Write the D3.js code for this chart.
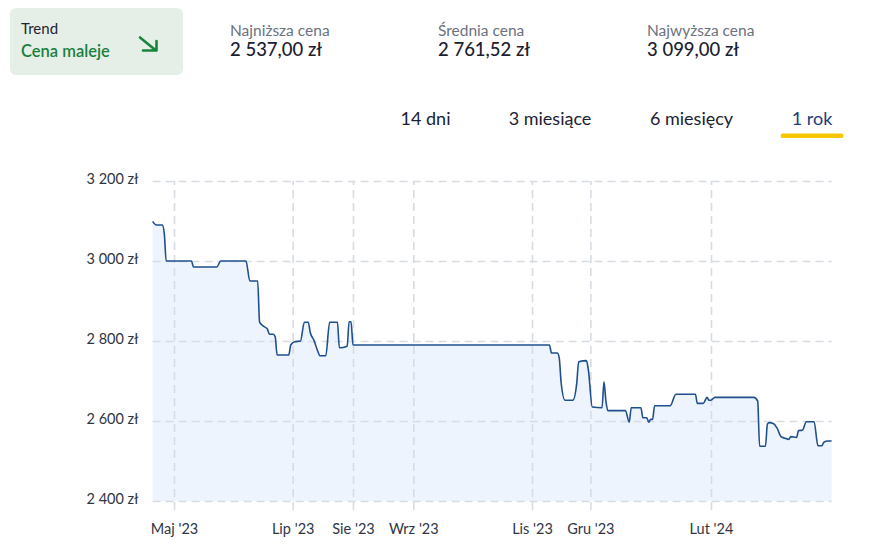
<!DOCTYPE html>
<html>
<head>
<meta charset="utf-8">
<script src="https://cdn.jsdelivr.net/npm/d3@7"></script>
<style>
  html, body { margin: 0; padding: 0; background: #ffffff; }
  svg { display: block; font-family: Lato, "Noto Sans", sans-serif; }
</style>
</head>
<body>
<svg id="chart" width="870" height="546"></svg>
<script>
// ---------- data ----------
const dates = [
  "2023-04-20","2023-04-22","2023-04-25","2023-04-26","2023-04-27",
  "2023-05-10","2023-05-11","2023-05-23","2023-05-25","2023-06-07",
  "2023-06-09","2023-06-13","2023-06-14","2023-06-16","2023-06-18",
  "2023-06-19","2023-06-21","2023-06-22","2023-06-23","2023-06-29",
  "2023-06-30","2023-07-02","2023-07-05","2023-07-07","2023-07-09",
  "2023-07-10","2023-07-12","2023-07-14","2023-07-15","2023-07-18",
  "2023-07-20","2023-07-24","2023-07-25","2023-07-29","2023-07-30",
  "2023-07-31","2023-08-01","2023-11-10","2023-11-11","2023-11-14",
  "2023-11-15","2023-11-16","2023-11-18","2023-11-22","2023-11-24",
  "2023-11-25","2023-11-29","2023-11-30","2023-12-02","2023-12-07",
  "2023-12-08","2023-12-09","2023-12-10","2023-12-19","2023-12-21",
  "2023-12-22","2023-12-27","2023-12-28","2023-12-30","2023-12-31",
  "2024-01-01","2024-01-02","2024-01-03","2024-01-11","2024-01-14",
  "2024-01-24","2024-01-25","2024-01-28","2024-01-30","2024-01-31",
  "2024-02-01","2024-02-03","2024-02-23","2024-02-25","2024-02-26",
  "2024-02-29","2024-03-01","2024-03-02","2024-03-04","2024-03-06",
  "2024-03-08","2024-03-10","2024-03-12","2024-03-13","2024-03-16",
  "2024-03-17","2024-03-19","2024-03-21","2024-03-25","2024-03-27",
  "2024-03-29","2024-03-30","2024-04-01","2024-04-03"
];
const prices = [
  3099,3090,3090,3069,3000,
  3000,2985,2985,3000,3000,
  2950,2950,2847,2837,2830,
  2817,2817,2811,2765,2765,
  2790,2798,2800,2847,2847,
  2822,2801,2773,2763,2763,
  2847,2847,2783,2787,2848,
  2848,2790,2790,2770,2770,
  2758,2695,2652,2652,2694,
  2748,2751,2727,2635,2633,
  2698,2650,2626,2626,2597,
  2633,2633,2608,2608,2597,
  2604,2604,2638,2638,2667,
  2667,2644,2644,2659,2652,
  2652,2659,2659,2650,2537,
  2537,2592,2596,2594,2582,
  2561,2557,2554,2561,2559,
  2576,2577,2598,2598,2538,
  2538,2547,2550,2550
];
const yTicks = [2400, 2600, 2800, 3000, 3200];
const xTickDates = ["2023-05-01","2023-07-01","2023-08-01","2023-09-01","2023-11-01","2023-12-01","2024-02-01"];
const xTickLabels = ["Maj '23","Lip '23","Sie '23","Wrz '23","Lis '23","Gru '23","Lut '24"];
const statLabels = ["Najniższa cena","Średnia cena","Najwyższa cena"];
const statValues = ["2 537,00 zł","2 761,52 zł","3 099,00 zł"];
const tabs = ["14 dni","3 miesiące","6 miesięcy","1 rok"];
const activeTab = "1 rok";
const xDomain = ["2023-04-20","2024-04-03"];
const yDomain = [2400, 3200];

// ---------- setup ----------
const parse = d3.timeParse("%Y-%m-%d");
const data = dates.map((d, i) => ({ date: parse(d), price: prices[i] }));
const svg = d3.select("#chart");

const plotLeft = 152.6, plotRight = 831.6, plotTop = 181, plotBottom = 501;
const x = d3.scaleTime().domain(xDomain.map(parse)).range([plotLeft, plotRight]);
const y = d3.scaleLinear().domain(yDomain).range([plotBottom, plotTop]);

// ---------- header ----------
const trend = svg.append("g");
trend.append("rect").attr("x", 10).attr("y", 8).attr("width", 173).attr("height", 67)
  .attr("rx", 6).attr("fill", "#e6efe7");
trend.append("text").attr("x", 21).attr("y", 34).attr("font-size", 15).attr("fill", "#1f2430").text("Trend");
trend.append("text").attr("x", 21).attr("y", 57).attr("font-size", 16.5).attr("font-weight", 600)
  .attr("fill", "#1a7f3c").text("Cena maleje");
trend.append("path").attr("d", "M140,37.5 L156,50.5 M143,50.5 L156.5,50.5 L156.5,41")
  .attr("fill", "none").attr("stroke", "#17853b").attr("stroke-width", 2.6)
  .attr("stroke-linecap", "round").attr("stroke-linejoin", "round");

const statX = [230, 438, 647];
statLabels.forEach((l, i) => {
  svg.append("text").attr("x", statX[i]).attr("y", 36).attr("font-size", 15.5).attr("fill", "#6b7280").text(l);
  svg.append("text").attr("x", statX[i]).attr("y", 56).attr("font-size", 18.5).attr("font-weight", 500)
    .attr("fill", "#1b2030").text(statValues[i]);
});

const tabX = [425.5, 550, 691.5, 812];
tabs.forEach((t, i) => {
  svg.append("text").attr("x", tabX[i]).attr("y", 125).attr("text-anchor", "middle")
    .attr("font-size", 18).attr("fill", t === activeTab ? "#1b3d78" : "#1b2233").text(t);
  if (t === activeTab) {
    svg.append("rect").attr("x", tabX[i] - 31.5).attr("y", 133.5).attr("width", 63).attr("height", 4.5)
      .attr("rx", 2.25).attr("fill", "#f8c700");
  }
});

// ---------- area + line ----------
svg.append("path").datum(data)
  .attr("fill", "#eef4fe")
  .attr("d", d3.area().x(d => x(d.date)).y0(y(yDomain[0])).y1(d => y(d.price)).curve(d3.curveMonotoneX));

// ---------- grid / axes ----------
const fmt = d3.formatLocale({ decimal: ",", thousands: "\u00a0", grouping: [3], currency: ["", " zł"] }).format(",d");

const yAxis = svg.append("g").attr("transform", `translate(${plotLeft},0)`)
  .call(d3.axisLeft(y).tickValues(yTicks).tickFormat(d => fmt(d) + " zł")
    .tickSize(-(plotRight - plotLeft)).tickPadding(14));
yAxis.select(".domain").remove();
yAxis.selectAll("line").attr("stroke", "#d7dbe2").attr("stroke-width", 1.6).attr("stroke-dasharray", "8,5");
yAxis.selectAll("text").attr("font-size", 14.5).attr("fill", "#2f3542").attr("font-family", "Lato").attr("dy", "0.2em");

const xAxisY = 510;
const xAxis = svg.append("g").attr("transform", `translate(0,${xAxisY})`)
  .call(d3.axisBottom(x).tickValues(xTickDates.map(parse)).tickFormat((d, i) => xTickLabels[i])
    .tickSize(-(xAxisY - plotTop)).tickPadding(14));
xAxis.select(".domain").remove();
xAxis.selectAll("line").attr("stroke", "#d7dbe2").attr("stroke-width", 1.6).attr("stroke-dasharray", "8,5")
  .attr("stroke-dashoffset", 0);
xAxis.selectAll("text").attr("font-size", 14.5).attr("fill", "#2f3542").attr("font-family", "Lato");

// line on top
svg.append("path").datum(data)
  .attr("fill", "none").attr("stroke", "#1f4f8f").attr("stroke-width", 1.6).attr("stroke-linejoin", "round")
  .attr("d", d3.line().x(d => x(d.date)).y(d => y(d.price)).curve(d3.curveMonotoneX));
</script>
</body>
</html>
